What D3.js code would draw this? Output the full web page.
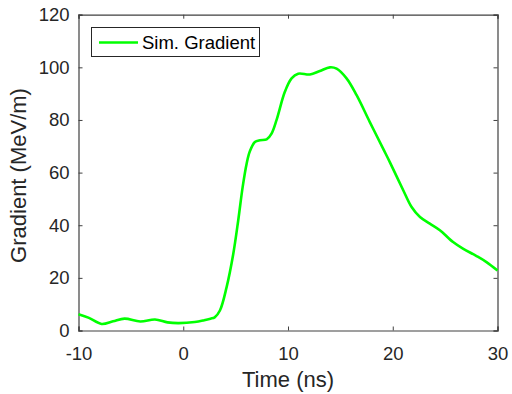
<!DOCTYPE html>
<html>
<head>
<meta charset="utf-8">
<script src="https://cdn.jsdelivr.net/npm/d3@7"></script>
<style>
  html, body { margin: 0; padding: 0; background: #fff; }
  svg { display: block; font-family: "Liberation Sans", Arial, Helvetica, sans-serif; }
</style>
</head>
<body>
<svg id="chart" width="512" height="394"></svg>
<script>
// Simulated accelerating gradient versus time
const timeNs = [-10, -9, -7.8, -6.7, -5.6, -4.1, -2.7, -1.5, -0.5, 1.1, 2.0, 2.6, 3.0, 3.5, 4.14, 4.77, 5.25, 5.67, 6.05, 6.36, 6.84, 7.32, 7.96, 8.43, 8.91, 9.7, 10.34, 10.97, 12.09, 13.04, 14.0, 14.64, 15.59, 16.55, 17.8, 19.08, 19.72, 21.0, 21.8, 22.6, 23.54, 24.5, 25.76, 26.7, 28.0, 28.95, 30];
const gradient = [6.2, 4.8, 2.5, 3.5, 4.5, 3.4, 4.2, 3.1, 2.8, 3.2, 3.9, 4.5, 5.0, 7.6, 16.5, 29, 41.9, 54.5, 63.4, 68.1, 71.6, 72.3, 72.6, 74.8, 80, 90.7, 95.8, 97.6, 97.3, 98.6, 100.0, 99.5, 95.8, 89.4, 79.3, 69.1, 64.0, 53.3, 46.9, 43.1, 40.6, 38.1, 33.6, 31.1, 28.3, 26.0, 22.8];

const xTicks = [-10, 0, 10, 20, 30];
const yTicks = [0, 20, 40, 60, 80, 100, 120];
const seriesName = "Sim. Gradient";
const xTitle = "Time (ns)";
const yTitle = "Gradient (MeV/m)";

const svg = d3.select("#chart");
const plotLeft = 78.5, plotRight = 497.5, plotTop = 14.7, plotBottom = 330.5;
const axisColor = "#404040";
const textColor = "#262626";

const x = d3.scaleLinear().domain([-10, 30]).range([plotLeft, plotRight]);
const y = d3.scaleLinear().domain([0, 120]).range([plotBottom, plotTop]);

const tickLen = 4;
const fontSize = 18.5;
const fmt = d => String(d);   // plain hyphen for negatives

// Bottom axis (ticks inward)
const gx = svg.append("g").attr("transform", `translate(0,${plotBottom})`)
  .call(d3.axisBottom(x).tickValues(xTicks).tickSize(-tickLen).tickPadding(16).tickFormat(fmt));
// Left axis
const gy = svg.append("g").attr("transform", `translate(${plotLeft},0)`)
  .call(d3.axisLeft(y).tickValues(yTicks).tickSize(-tickLen).tickPadding(9).tickFormat(fmt));
// Top and right mirrored axes, no labels
const gxt = svg.append("g").attr("transform", `translate(0,${plotTop})`)
  .call(d3.axisTop(x).tickValues(xTicks).tickSize(-tickLen).tickFormat(""));
const gyr = svg.append("g").attr("transform", `translate(${plotRight},0)`)
  .call(d3.axisRight(y).tickValues(yTicks).tickSize(-tickLen).tickFormat(""));

[gx, gy, gxt, gyr].forEach(g => {
  g.select(".domain").attr("stroke", axisColor).attr("stroke-width", 1.2);
  g.selectAll(".tick line").attr("stroke", axisColor).attr("stroke-width", 1);
  g.selectAll(".tick text").attr("fill", textColor)
    .style("font-size", fontSize + "px").style("font-family", '"Liberation Sans", Arial, sans-serif');
});
gx.selectAll(".tick text").attr("dy", "0.71em");

// Gradient curve
const line = d3.line()
  .x((d, i) => x(timeNs[i]))
  .y(d => y(d))
  .curve(d3.curveCatmullRom.alpha(0.5));

svg.append("path")
  .datum(gradient)
  .attr("fill", "none")
  .attr("stroke", "#00ff00")
  .attr("stroke-width", 2.6)
  .attr("stroke-linejoin", "round")
  .attr("d", line);

// Axis titles
svg.append("text")
  .attr("x", (plotLeft + plotRight) / 2)
  .attr("y", 386.5)
  .attr("text-anchor", "middle")
  .attr("fill", textColor)
  .style("font-size", "22px")
  .text(xTitle);

svg.append("text")
  .attr("transform", `translate(26,175.5) rotate(-90)`)
  .attr("text-anchor", "middle")
  .attr("fill", textColor)
  .style("font-size", "22px")
  .text(yTitle);

// Legend
const lg = svg.append("g");
lg.append("rect")
  .attr("x", 91.5).attr("y", 27.5)
  .attr("width", 168).attr("height", 29)
  .attr("fill", "#fff").attr("stroke", "#262626").attr("stroke-width", 1);
lg.append("line")
  .attr("x1", 99).attr("x2", 138)
  .attr("y1", 42.5).attr("y2", 42.5)
  .attr("stroke", "#00ff00").attr("stroke-width", 2.6);
lg.append("text")
  .attr("x", 142).attr("y", 49)
  .attr("fill", "#000")
  .style("font-size", fontSize + "px")
  .text(seriesName);
</script>
</body>
</html>
